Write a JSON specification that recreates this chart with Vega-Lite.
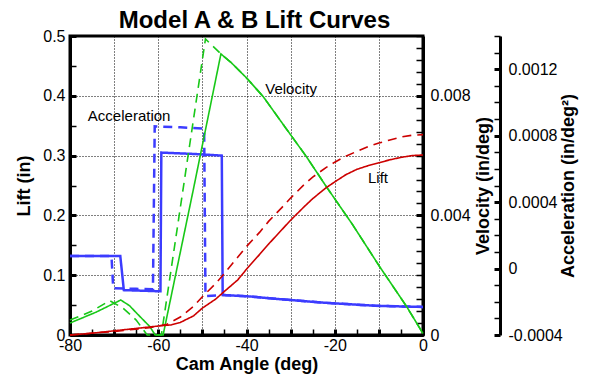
{
  "$schema": "https://vega.github.io/schema/vega-lite/v6.json",
  "width": 353,
  "height": 299,
  "autosize": {"type": "none"},
  "padding": {"left": 70, "top": 36, "right": 169, "bottom": 41},
  "background": "white",
  "title": {
    "text": "Model A & B Lift Curves",
    "font": "Liberation Sans",
    "fontSize": 24,
    "fontWeight": "bold",
    "color": "black",
    "anchor": "middle",
    "dx": 8,
    "offset": -5
  },
  "config": {
    "view": {"stroke": "black", "strokeWidth": 3},
    "axis": {
      "labelFont": "Liberation Sans",
      "labelFontSize": 16,
      "labelColor": "black",
      "titleFont": "Liberation Sans",
      "titleFontSize": 18,
      "titleFontWeight": "bold",
      "titleColor": "black",
      "domainColor": "black",
      "domainWidth": 3,
      "tickColor": "black",
      "labelOverlap": false,
      "labelFlush": false,
      "labelBound": false
    }
  },
  "data": {
    "values": [
      {"a": -80, "v": 0, "q": "lift", "m": "A"},
      {"a": -75, "v": 0.003, "q": "lift", "m": "A"},
      {"a": -70, "v": 0.007, "q": "lift", "m": "A"},
      {"a": -65, "v": 0.011, "q": "lift", "m": "A"},
      {"a": -60, "v": 0.015, "q": "lift", "m": "A"},
      {"a": -57, "v": 0.017, "q": "lift", "m": "A"},
      {"a": -55, "v": 0.021, "q": "lift", "m": "A"},
      {"a": -52, "v": 0.032, "q": "lift", "m": "A"},
      {"a": -50, "v": 0.045, "q": "lift", "m": "A"},
      {"a": -47, "v": 0.06, "q": "lift", "m": "A"},
      {"a": -45, "v": 0.073, "q": "lift", "m": "A"},
      {"a": -42, "v": 0.092, "q": "lift", "m": "A"},
      {"a": -40, "v": 0.11, "q": "lift", "m": "A"},
      {"a": -37, "v": 0.135, "q": "lift", "m": "A"},
      {"a": -35, "v": 0.152, "q": "lift", "m": "A"},
      {"a": -32, "v": 0.176, "q": "lift", "m": "A"},
      {"a": -30, "v": 0.192, "q": "lift", "m": "A"},
      {"a": -27, "v": 0.214, "q": "lift", "m": "A"},
      {"a": -25, "v": 0.228, "q": "lift", "m": "A"},
      {"a": -22, "v": 0.246, "q": "lift", "m": "A"},
      {"a": -20, "v": 0.256, "q": "lift", "m": "A"},
      {"a": -17.5, "v": 0.268, "q": "lift", "m": "A"},
      {"a": -15, "v": 0.277, "q": "lift", "m": "A"},
      {"a": -12.5, "v": 0.283, "q": "lift", "m": "A"},
      {"a": -10, "v": 0.288, "q": "lift", "m": "A"},
      {"a": -7.5, "v": 0.293, "q": "lift", "m": "A"},
      {"a": -5, "v": 0.297, "q": "lift", "m": "A"},
      {"a": -2.5, "v": 0.3, "q": "lift", "m": "A"},
      {"a": 0, "v": 0.301, "q": "lift", "m": "A"},

      {"a": -80, "v": 0, "q": "lift", "m": "B"},
      {"a": -70, "v": 0.006, "q": "lift", "m": "B"},
      {"a": -62, "v": 0.012, "q": "lift", "m": "B"},
      {"a": -58, "v": 0.018, "q": "lift", "m": "B"},
      {"a": -55, "v": 0.03, "q": "lift", "m": "B"},
      {"a": -52, "v": 0.048, "q": "lift", "m": "B"},
      {"a": -50, "v": 0.064, "q": "lift", "m": "B"},
      {"a": -47, "v": 0.086, "q": "lift", "m": "B"},
      {"a": -45, "v": 0.103, "q": "lift", "m": "B"},
      {"a": -42, "v": 0.13, "q": "lift", "m": "B"},
      {"a": -40, "v": 0.148, "q": "lift", "m": "B"},
      {"a": -37, "v": 0.172, "q": "lift", "m": "B"},
      {"a": -35, "v": 0.19, "q": "lift", "m": "B"},
      {"a": -32, "v": 0.213, "q": "lift", "m": "B"},
      {"a": -30, "v": 0.229, "q": "lift", "m": "B"},
      {"a": -27, "v": 0.251, "q": "lift", "m": "B"},
      {"a": -25, "v": 0.264, "q": "lift", "m": "B"},
      {"a": -22, "v": 0.28, "q": "lift", "m": "B"},
      {"a": -20, "v": 0.289, "q": "lift", "m": "B"},
      {"a": -17.5, "v": 0.299, "q": "lift", "m": "B"},
      {"a": -15, "v": 0.307, "q": "lift", "m": "B"},
      {"a": -12.5, "v": 0.315, "q": "lift", "m": "B"},
      {"a": -10, "v": 0.321, "q": "lift", "m": "B"},
      {"a": -7.5, "v": 0.326, "q": "lift", "m": "B"},
      {"a": -5, "v": 0.331, "q": "lift", "m": "B"},
      {"a": -2.5, "v": 0.334, "q": "lift", "m": "B"},
      {"a": 0, "v": 0.335, "q": "lift", "m": "B"},

      {"a": -80, "v": 0.0004, "q": "vel", "m": "A"},
      {"a": -74, "v": 0.00077, "q": "vel", "m": "A"},
      {"a": -68.5, "v": 0.00117, "q": "vel", "m": "A"},
      {"a": -66.5, "v": 0.00098, "q": "vel", "m": "A"},
      {"a": -64.9, "v": 0.00073, "q": "vel", "m": "A"},
      {"a": -61.9, "v": 0.00028, "q": "vel", "m": "A"},
      {"a": -60.7, "v": 0, "q": "vel", "m": "A"},
      {"a": -58.9, "v": 0, "q": "vel", "m": "A"},
      {"a": -52, "v": 0.0049, "q": "vel", "m": "A"},
      {"a": -45.8, "v": 0.0094, "q": "vel", "m": "A"},
      {"a": -43.4, "v": 0.0091, "q": "vel", "m": "A"},
      {"a": -40, "v": 0.0086, "q": "vel", "m": "A"},
      {"a": -36.2, "v": 0.00797, "q": "vel", "m": "A"},
      {"a": -31, "v": 0.0069, "q": "vel", "m": "A"},
      {"a": -26.4, "v": 0.00596, "q": "vel", "m": "A"},
      {"a": -21.9, "v": 0.00496, "q": "vel", "m": "A"},
      {"a": -16, "v": 0.0037, "q": "vel", "m": "A"},
      {"a": -9.8, "v": 0.00228, "q": "vel", "m": "A"},
      {"a": -3.7, "v": 0.00095, "q": "vel", "m": "A"},
      {"a": 0, "v": 0.00005, "q": "vel", "m": "A"},

      {"a": -80, "v": 0.0005, "q": "vel", "m": "B"},
      {"a": -75, "v": 0.0008, "q": "vel", "m": "B"},
      {"a": -71, "v": 0.00115, "q": "vel", "m": "B"},
      {"a": -68, "v": 0.0009, "q": "vel", "m": "B"},
      {"a": -65, "v": 0.0005, "q": "vel", "m": "B"},
      {"a": -62.5, "v": 0, "q": "vel", "m": "B"},
      {"a": -59.3, "v": 0, "q": "vel", "m": "B"},
      {"a": -49.3, "v": 0.0099, "q": "vel", "m": "B"},
      {"a": -45.8, "v": 0.0094, "q": "vel", "m": "B"},
      {"a": -43.4, "v": 0.0091, "q": "vel", "m": "B"},
      {"a": -40, "v": 0.0086, "q": "vel", "m": "B"},
      {"a": -36.2, "v": 0.00797, "q": "vel", "m": "B"},
      {"a": -31, "v": 0.0069, "q": "vel", "m": "B"},
      {"a": -26.4, "v": 0.00596, "q": "vel", "m": "B"},
      {"a": -21.9, "v": 0.00496, "q": "vel", "m": "B"},
      {"a": -16, "v": 0.0037, "q": "vel", "m": "B"},
      {"a": -9.8, "v": 0.00228, "q": "vel", "m": "B"},
      {"a": -3.7, "v": 0.00095, "q": "vel", "m": "B"},
      {"a": 0, "v": 0.00005, "q": "vel", "m": "B"},

      {"a": -80, "v": 0.000075, "q": "acc", "m": "A"},
      {"a": -68.6, "v": 0.000075, "q": "acc", "m": "A"},
      {"a": -67.8, "v": -0.00013, "q": "acc", "m": "A"},
      {"a": -64, "v": -0.000133, "q": "acc", "m": "A"},
      {"a": -59.5, "v": -0.000137, "q": "acc", "m": "A"},
      {"a": -59.3, "v": 0.000698, "q": "acc", "m": "A"},
      {"a": -52, "v": 0.00069, "q": "acc", "m": "A"},
      {"a": -45.6, "v": 0.00068, "q": "acc", "m": "A"},
      {"a": -45.4, "v": -0.000159, "q": "acc", "m": "A"},
      {"a": -39.2, "v": -0.000168, "q": "acc", "m": "A"},
      {"a": -33.5, "v": -0.000182, "q": "acc", "m": "A"},
      {"a": -27.9, "v": -0.000194, "q": "acc", "m": "A"},
      {"a": -22.2, "v": -0.000206, "q": "acc", "m": "A"},
      {"a": -16.5, "v": -0.000215, "q": "acc", "m": "A"},
      {"a": -10.8, "v": -0.000224, "q": "acc", "m": "A"},
      {"a": -5, "v": -0.000228, "q": "acc", "m": "A"},
      {"a": 0, "v": -0.000231, "q": "acc", "m": "A"},

      {"a": -80, "v": 0.000075, "q": "acc", "m": "B"},
      {"a": -70.6, "v": 0.000075, "q": "acc", "m": "B"},
      {"a": -70.2, "v": -0.000119, "q": "acc", "m": "B"},
      {"a": -65, "v": -0.000122, "q": "acc", "m": "B"},
      {"a": -61.2, "v": -0.000125, "q": "acc", "m": "B"},
      {"a": -60.8, "v": 0.000856, "q": "acc", "m": "B"},
      {"a": -55, "v": 0.00085, "q": "acc", "m": "B"},
      {"a": -49.6, "v": 0.000842, "q": "acc", "m": "B"},
      {"a": -49.3, "v": -0.000166, "q": "acc", "m": "B"},
      {"a": -45.4, "v": -0.000159, "q": "acc", "m": "B"},
      {"a": -39.2, "v": -0.000168, "q": "acc", "m": "B"},
      {"a": -33.5, "v": -0.000182, "q": "acc", "m": "B"},
      {"a": -27.9, "v": -0.000194, "q": "acc", "m": "B"},
      {"a": -22.2, "v": -0.000206, "q": "acc", "m": "B"},
      {"a": -16.5, "v": -0.000215, "q": "acc", "m": "B"},
      {"a": -10.8, "v": -0.000224, "q": "acc", "m": "B"},
      {"a": -5, "v": -0.000228, "q": "acc", "m": "B"},
      {"a": 0, "v": -0.000231, "q": "acc", "m": "B"}
    ]
  },
  "encoding": {
    "x": {
      "field": "a",
      "type": "quantitative",
      "scale": {"domain": [-80, 0], "nice": false, "zero": false},
      "axis": {
        "title": "Cam Angle (deg)",
        "values": [-80, -75, -70, -65, -60, -55, -50, -45, -40, -35, -30, -25, -20, -15, -10, -5, 0],
        "labelExpr": "datum.value % 20 == 0 ? '' + datum.value : ''",
        "grid": true,
        "gridColor": "black",
        "gridDash": [1, 2],
        "gridWidth": 1,
        "gridOpacity": {"condition": {"test": "datum.value % 10 == 0 && datum.value > -79 && datum.value < -1", "value": 1}, "value": 0},
        "tickSize": -6,
        "tickWidth": {"condition": {"test": "datum.value % 10 == 0", "value": 3}, "value": 1.5},
        "labelPadding": 8,
        "titlePadding": 2
      }
    }
  },
  "layer": [
    {
      "transform": [{"filter": "datum.q == 'acc'"}],
      "mark": {"type": "line", "color": "#3c3cff", "strokeWidth": 2.5},
      "encoding": {
        "y": {
          "field": "v",
          "type": "quantitative",
          "scale": {"domain": [-0.0004, 0.0014], "nice": false, "zero": false},
          "axis": {
            "orient": "right",
            "offset": 77,
            "title": "Acceleration (in/deg²)",
            "titleAngle": 270,
            "titleBaseline": "top",
            "titlePadding": -3,
            "values": [-0.0004, -0.0003, -0.0002, -0.0001, 0, 0.0001, 0.0002, 0.0003, 0.0004, 0.0005, 0.0006, 0.0007, 0.0008, 0.0009, 0.001, 0.0011, 0.0012, 0.0013, 0.0014],
            "labelExpr": "abs(datum.value / 0.0004 - round(datum.value / 0.0004)) < 0.001 ? replace(format(datum.value, '~g'), '\u2212', '-') : ''",
            "tickSize": -6,
            "tickWidth": {"condition": {"test": "abs(datum.value / 0.0004 - round(datum.value / 0.0004)) < 0.001", "value": 3}, "value": 1.5},
            "labelPadding": 14,
            "grid": false
          }
        },
        "detail": {"field": "m"},
        "strokeDash": {"field": "m", "type": "nominal", "scale": {"domain": ["A", "B"], "range": [[1, 0], [9, 6]]}, "legend": null}
      }
    },
    {
      "transform": [{"filter": "datum.q == 'vel'"}],
      "mark": {"type": "line", "color": "#18c818", "strokeWidth": 1.6},
      "encoding": {
        "y": {
          "field": "v",
          "type": "quantitative",
          "scale": {"domain": [0, 0.01], "nice": false, "zero": false},
          "axis": {
            "orient": "right",
            "offset": 0,
            "title": "Velocity (in/deg)",
            "titleAngle": 270,
            "titleBaseline": "top",
            "titlePadding": 4,
            "values": [0, 0.0004, 0.0008, 0.0012, 0.0016, 0.002, 0.0024, 0.0028, 0.0032, 0.0036, 0.004, 0.0044, 0.0048, 0.0052, 0.0056, 0.006, 0.0064, 0.0068, 0.0072, 0.0076, 0.008, 0.0084, 0.0088, 0.0092, 0.0096, 0.01],
            "labelExpr": "abs(datum.value / 0.004 - round(datum.value / 0.004)) < 0.001 ? format(datum.value, '~g') : ''",
            "tickSize": -7,
            "tickWidth": {"condition": {"test": "abs(datum.value / 0.004 - round(datum.value / 0.004)) < 0.001", "value": 3}, "value": 1.5},
            "labelPadding": 14,
            "grid": false
          }
        },
        "detail": {"field": "m"},
        "strokeDash": {"field": "m", "type": "nominal", "scale": {"domain": ["A", "B"], "range": [[1, 0], [9, 6]]}, "legend": null}
      }
    },
    {
      "transform": [{"filter": "datum.q == 'lift'"}],
      "mark": {"type": "line", "color": "#cc0000", "strokeWidth": 1.6},
      "encoding": {
        "y": {
          "field": "v",
          "type": "quantitative",
          "scale": {"domain": [0, 0.5], "nice": false, "zero": false},
          "axis": {
            "orient": "left",
            "title": "Lift (in)",
            "titlePadding": 9,
            "values": [0, 0.05, 0.1, 0.15, 0.2, 0.25, 0.3, 0.35, 0.4, 0.45, 0.5],
            "labelExpr": "abs(datum.value * 10 - round(datum.value * 10)) < 0.001 ? format(datum.value, '~g') : ''",
            "grid": true,
            "gridColor": "black",
            "gridDash": [1, 2],
            "gridWidth": 1,
            "gridOpacity": {"condition": {"test": "abs(datum.value * 10 - round(datum.value * 10)) < 0.001 && datum.value > 0.01 && datum.value < 0.49", "value": 1}, "value": 0},
            "tickSize": -6,
            "tickWidth": {"condition": {"test": "abs(datum.value * 10 - round(datum.value * 10)) < 0.001", "value": 3}, "value": 1.5},
            "labelPadding": 11
          }
        },
        "detail": {"field": "m"},
        "strokeDash": {"field": "m", "type": "nominal", "scale": {"domain": ["A", "B"], "range": [[1, 0], [9, 6]]}, "legend": null}
      }
    },
    {
      "data": {
        "values": [
          {"a": -66.6, "y": 0.366, "t": "Acceleration"},
          {"a": -29.9, "y": 0.412, "t": "Velocity"},
          {"a": -10.2, "y": 0.2625, "t": "Lift"}
        ]
      },
      "mark": {"type": "text", "font": "Liberation Sans", "fontSize": 15, "color": "black", "align": "center", "baseline": "middle"},
      "encoding": {
        "y": {"field": "y", "type": "quantitative", "scale": {"domain": [0, 0.5], "nice": false, "zero": false}, "axis": null},
        "text": {"field": "t"}
      }
    }
  ],
  "resolve": {"scale": {"y": "independent"}, "axis": {"y": "independent"}}
}
